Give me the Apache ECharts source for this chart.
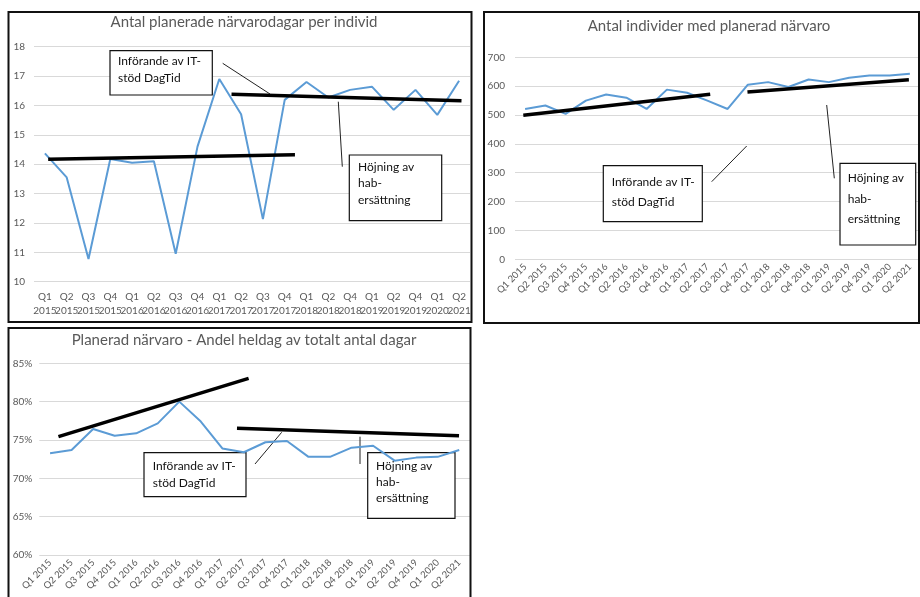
<!DOCTYPE html>
<html>
<head>
<meta charset="utf-8">
<script src="https://cdn.jsdelivr.net/npm/echarts@6/dist/echarts.min.js"></script>
<style>
html,body{margin:0;padding:0;background:#fff;}
#c{width:920px;height:597px;}
</style>
</head>
<body>
<div id="c"></div>
<script>
// ---- data ----
const categories = ['Q1 2015','Q2 2015','Q3 2015','Q4 2015','Q1 2016','Q2 2016','Q3 2016','Q4 2016',
  'Q1 2017','Q2 2017','Q3 2017','Q4 2017','Q1 2018','Q2 2018','Q4 2018','Q1 2019','Q2 2019','Q4 2019','Q1 2020','Q2 2021'];

const dagarPerIndivid = [14.37,13.55,10.77,14.18,14.05,14.1,10.95,14.6,16.9,15.7,12.13,16.19,16.8,16.27,16.53,16.64,15.85,16.53,15.68,16.84];
const antalIndivider = [521,533,504,550,571,560,521,588,577,550,521,605,614,597,623,614,629,637,637,643];
const andelHeldag = [73.26,73.7,76.43,75.56,75.87,77.17,80.0,77.4,73.9,73.4,74.7,74.86,72.8,72.8,74.0,74.25,72.3,72.7,72.8,73.7];

// trend lines: [categoryPosition, value] pairs (category position measured in category index units)
const trendDagarFore = [[0.15,14.17],[11.47,14.32]];
const trendDagarEfter = [[8.56,16.38],[19.11,16.16]];
const trendIndividerFore = [[-0.09,499],[9.14,572]];
const trendIndividerEfter = [[10.98,580],[18.95,622]];
const trendAndelFore = [[0.39,75.43],[9.22,83.04]];
const trendAndelEfter = [[8.68,76.52],[18.99,75.56]];

const titles = ['Antal planerade närvarodagar per individ','Antal individer med planerad närvaro','Planerad närvaro - Andel heldag av totalt antal dagar'];
const noteIT = 'Införande av IT-\nstöd DagTid';
const noteHab = 'Höjning av\nhab-\nersättning';

// ---- styling ----
const FONT = 'Lato, "Open Sans", sans-serif';
const GREY = '#595959';
const BLUE = '#5B9BD5';
const GRIDC = '#d9d9d9';

const chart = echarts.init(document.getElementById('c'), null, {renderer:'canvas'});

function catAxis(grid, fmt, rotate, fs, margin, lh){
  return {type:'category', gridIndex:grid, data:categories, boundaryGap:true,
    axisLine:{show:false}, axisTick:{show:false},
    axisLabel:{interval:0, color:GREY, fontFamily:FONT, fontSize:fs, rotate:rotate, margin:margin, lineHeight:lh, formatter:fmt}};
}
function hidAxis(grid){
  return {type:'value', gridIndex:grid, min:-0.5, max:19.5, show:false};
}
function valAxis(grid,min,max,interval,fmt,margin){
  return {type:'value', gridIndex:grid, min:min, max:max, interval:interval,
    axisLine:{show:false}, axisTick:{show:false},
    splitLine:{lineStyle:{color:GRIDC, width:1}},
    axisLabel:{color:GREY, fontFamily:FONT, fontSize:10, margin:margin, formatter:fmt}};
}
function dataLine(i, d){
  return {type:'line', xAxisIndex:i, yAxisIndex:i, data:d, symbol:'none', z:3,
    lineStyle:{color:BLUE, width:2}, itemStyle:{color:BLUE}};
}
function trendLine(xi, yi, d){
  return {type:'line', xAxisIndex:xi, yAxisIndex:yi, data:d, symbol:'none', z:4,
    lineStyle:{color:'#000', width:3.5}};
}

function frame(x,y,w,h){
  return {type:'rect', shape:{x:x,y:y,width:w,height:h}, style:{fill:'none', stroke:'#111', lineWidth:2}, z:200};
}
function title(x,y,t){
  return {type:'text', x:x, y:y, z:200, style:{text:t, align:'center', verticalAlign:'middle', fill:GREY, font:'15px '+FONT}};
}
function box(x,y,w,h){
  return {type:'rect', shape:{x:x,y:y,width:w,height:h}, style:{fill:'#fff', stroke:'#111', lineWidth:1.2}, z:1};
}
function note(x,y,t,lh){
  return {type:'text', x:x, y:y, z:1, style:{text:t, fill:'#111', font:'12px '+FONT, lineHeight:lh, verticalAlign:'top'}};
}
function conn(x1,y1,x2,y2){
  return {type:'line', shape:{x1:x1,y1:y1,x2:x2,y2:y2}, style:{stroke:'#222', lineWidth:1}, z:1};
}

const option = {
  animation:false,
  backgroundColor:'#fff',
  grid:[
    {left:34, top:46.7, width:436, height:235},
    {left:515, top:57.3, width:408, height:202},
    {left:39.3, top:363.3, width:430.7, height:191.7}
  ],
  xAxis:[
    catAxis(0, v => v.replace(' ','\n'), 0, 10, 8, 14),
    catAxis(1, null, 45, 9.5, 6),
    catAxis(2, null, 45, 9.5, 6),
    hidAxis(0), hidAxis(1), hidAxis(2)
  ],
  yAxis:[
    valAxis(0,10,18,1,null,9),
    valAxis(1,0,700,100,null,10),
    valAxis(2,60,85,5,'{value}%',7)
  ],
  series:[
    dataLine(0, dagarPerIndivid),
    dataLine(1, antalIndivider),
    dataLine(2, andelHeldag),
    trendLine(3,0,trendDagarFore), trendLine(3,0,trendDagarEfter),
    trendLine(4,1,trendIndividerFore), trendLine(4,1,trendIndividerEfter),
    trendLine(5,2,trendAndelFore), trendLine(5,2,trendAndelEfter)
  ],
  graphic:[
    frame(8.5,12,463,310),
    frame(484,12,435,311),
    frame(8.5,328,462,290),
    title(244,22,titles[0]),
    title(709,26.5,titles[1]),
    title(244,340,titles[2]),
    // chart 1 notes
    box(110,50.7,102.3,44.3), note(118,53,noteIT,16.5), conn(222.7,63.3,270,94),
    box(349.3,155,92.4,65.7), note(358,158.5,noteHab,16.5), conn(338.3,101.7,342.3,166.7),
    // chart 2 notes
    box(603.3,165.7,99,56), note(611.7,171.7,noteIT,20), conn(711.7,181.7,746.7,146),
    box(840,163.3,75.7,81.7), note(847.7,168.3,noteHab,20.5), conn(826.7,105,834.3,178.3),
    // chart 3 notes
    box(144,452.7,102,44), note(152.7,457,noteIT,17.6), conn(255,464,281.7,432.3),
    box(367.7,452.7,87.3,65.6), note(376,457.7,noteHab,16), conn(360,436.7,360,464)
  ]
};
chart.setOption(option);
</script>
</body>
</html>
